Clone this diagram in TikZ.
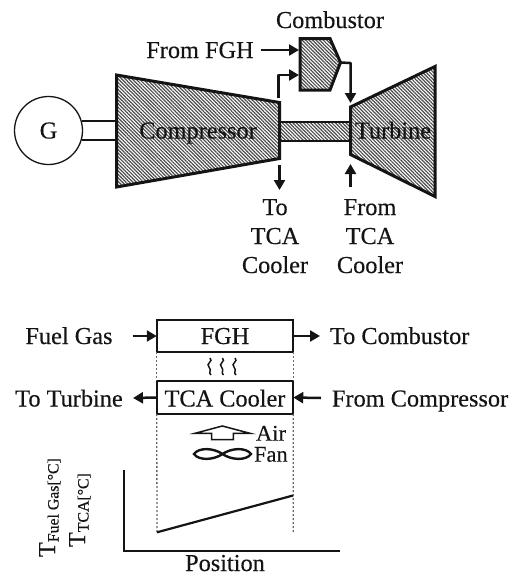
\documentclass[tikz,border=0pt]{standalone}
\usepackage{fontspec}
\setmainfont{Liberation Serif}[FakeBold=0.25,AutoFakeBold=0.25]
\newfontfamily\inkfont{Liberation Serif}[RawFeature={embolden=0.35}]
\usetikzlibrary{patterns.meta,arrows.meta}
\definecolor{ink}{HTML}{141414}
\newcommand{\bigtxt}{\inkfont\fontsize{24.3}{28}\selectfont}
\newcommand{\smalltxt}{\inkfont\fontsize{22.5}{26}\selectfont}
\newcommand{\subtxt}{\inkfont\fontsize{15.8}{18}\selectfont}
\tikzset{
  txt/.style={anchor=base,inner sep=0pt,outer sep=0pt,text=ink,font=\bigtxt},
  txtl/.style={txt,anchor=base west},
  hatched/.style={draw=ink,line width=3pt,line join=miter,
    pattern={Lines[angle=-45,distance=2.5pt,line width=1.2pt]},pattern color=black!70},
  flow/.style={draw=ink,line width=2.5pt,line join=round,-{Triangle[length=10pt,width=11pt]}},
  thin box/.style={draw=ink,line width=1.7pt,fill=white,inner sep=0pt,outer sep=0pt},
  dots/.style={draw=black!60,line width=1.3pt,dash pattern=on 2pt off 2pt},
  rot/.style={anchor=base,rotate=90,inner sep=0pt,outer sep=0pt,text=ink,font=\bigtxt},
  outlinef/.style={draw=ink,line width=1.5pt},
}
\begin{document}
\begin{tikzpicture}[x=1pt,y=-1pt]
\useasboundingbox (0,0) rectangle (514,576);
% --- upper diagram
\node[circle,draw=ink,line width=1.3pt,minimum size=68pt,inner sep=0pt,outer sep=0pt] (gen) at (48.5,130.5) {};
\coordinate (g1a) at (82,121); \coordinate (g1b) at (116.5,121);
\coordinate (g2a) at (82,140); \coordinate (g2b) at (116.5,140);
\draw[draw=ink,line width=1.3pt] (g1a) -- (g1b) (g2a) -- (g2b);
% shaft
\coordinate (s1) at (279.5,122); \coordinate (s2) at (350.5,122);
\coordinate (s3) at (350.5,141); \coordinate (s4) at (279.5,141);
\draw[hatched,line width=2.2pt] (s1) -- (s2) -- (s3) -- (s4) -- cycle;
% compressor
\coordinate (c1) at (116.5,75); \coordinate (c2) at (279.5,102.5);
\coordinate (c3) at (279.5,158.5); \coordinate (c4) at (116.5,187);
\draw[hatched] (c1) -- (c2) -- (c3) -- (c4) -- cycle;
% turbine
\coordinate (t1) at (350.5,107); \coordinate (t2) at (435,66.5);
\coordinate (t3) at (435,196.5); \coordinate (t4) at (350.5,154.5);
\draw[hatched] (t1) -- (t2) -- (t3) -- (t4) -- cycle;
% combustor
\coordinate (b1) at (300,38.5); \coordinate (b2) at (330,38.5);
\coordinate (b3) at (340.5,62.5); \coordinate (b4) at (330,90);
\coordinate (b5) at (300,90);
\draw[hatched] (b1) -- (b2) -- (b3) -- (b4) -- (b5) -- cycle;
\node[txt] (lcomb) at (330,28) {Combustor};
\node[txt] (lfgh) at (200,58) {From FGH};
\node[txt] (lcomp) at (198,138.5) {Compressor};
\node[txt] (lturb) at (393,138.5) {Turbine};
\node[txt] (lg) at (48.5,138.5) {G};
\node[txt] (to1) at (275,215) {To};
\node[txt] (to2) at (275,244) {TCA};
\node[txt] (to3) at (275,273) {Cooler};
\node[txt] (fr1) at (370,215) {From};
\node[txt] (fr2) at (370,244) {TCA};
\node[txt] (fr3) at (370,273) {Cooler};
% upper arrows
\coordinate (a1s) at (260.5,50); \coordinate (a1e) at (299,50);
\draw[flow] (a1s) -- (a1e);
\coordinate (a2s) at (278.5,98); \coordinate (a2m) at (278.5,75); \coordinate (a2e) at (299,75);
\draw[flow] (a2s) -- (a2m) -- (a2e);
\coordinate (a3m) at (350.5,63); \coordinate (a3e) at (350.5,103);
\draw[flow] (b3) -- (a3m) -- (a3e);
\coordinate (a4s) at (279.5,165); \coordinate (a4e) at (279.5,190);
\draw[flow] (a4s) -- (a4e);
\coordinate (a5s) at (350.5,187); \coordinate (a5e) at (350.5,164);
\draw[flow] (a5s) -- (a5e);
% --- lower diagram
\node[thin box,minimum width=136.5pt,minimum height=32pt] (fgh) at (225,336) {};
\node[txt] at (225,344) {FGH};
\node[thin box,minimum width=136.5pt,minimum height=33pt] (tca) at (225,397.5) {};
\node[txt] at (225,406.5) {TCA Cooler};
\node[txt] (lfuel) at (69,344) {Fuel Gas};
\node[txtl] (ltoc) at (330,344) {To Combustor};
\node[txt] (ltot) at (69,406.5) {To Turbine};
\node[txtl] (lfrc) at (332,406.5) {From Compressor};
\coordinate (f1) at (132.5,336); \coordinate (f2) at (320,336);
\coordinate (f3) at (133,398); \coordinate (f4) at (321,398);
\draw[flow] (f1) -- (fgh.west);
\draw[flow] (fgh.east) -- (f2);
\draw[flow] (tca.west) -- (f3);
\draw[flow] (f4) -- (tca.east);
% dotted guides
\coordinate (d1) at (157,533); \coordinate (d2) at (293.3,533);
\draw[dots] (fgh.south west) -- (tca.north west);
\draw[dots] (fgh.south east) -- (tca.north east);
\draw[dots] (tca.south west) -- (d1);
\draw[dots] (tca.south east) -- (d2);
% wavy heat marks
\foreach \x in {210,222.5,235}{
  \draw[draw=ink,line width=1.5pt] (\x,358) .. controls (\x+4,361) and (\x-5,364) .. (\x-1,367)
     .. controls (\x+2,370) and (\x-2,373) .. (\x+1,375);
}
% air arrow
\coordinate (r1) at (195,433.3); \coordinate (r2) at (211.7,433.3); \coordinate (r3) at (211.7,439.5);
\coordinate (r4) at (233.3,439.5); \coordinate (r5) at (233.3,433.3); \coordinate (r6) at (250,433.3);
\coordinate (r7) at (222.3,426);
\draw[outlinef,line join=miter] (r1) -- (r2) -- (r3) -- (r4) -- (r5) -- (r6) -- (r7) -- cycle;
\node[txtl,font=\smalltxt] (lair) at (256,440.7) {Air};
% fan
\draw[draw=ink,line width=2.4pt] (194,454)
  .. controls (199,447) and (214,448) .. (222.5,454)
  .. controls (231,460) and (246,461) .. (251,454)
  .. controls (246,447) and (231,448) .. (222.5,454)
  .. controls (214,460) and (199,461) .. (194,454) -- cycle;
\node[txtl,font=\smalltxt] (lfan) at (254,461.7) {Fan};
% chart
\coordinate (ax1) at (124,470); \coordinate (ax2) at (124,550.7); \coordinate (ax3) at (340,550.7);
\draw[draw=ink,line width=1.8pt] (ax1) -- (ax2) -- (ax3);
\coordinate (l1) at (157,532.3); \coordinate (l2) at (293,495.5);
\draw[draw=ink,line width=2.2pt] (l1) -- (l2);
\node[txt] (lpos) at (225,571) {Position};
\node[rot,anchor=base west] (ly1) at (55,557) {T\raisebox{-3.5pt}{\subtxt Fuel Gas[°C]}};
\node[rot,anchor=base west] (ly2) at (85,547) {T\raisebox{-3.5pt}{\subtxt TCA[°C]}};
\end{tikzpicture}
\end{document}
